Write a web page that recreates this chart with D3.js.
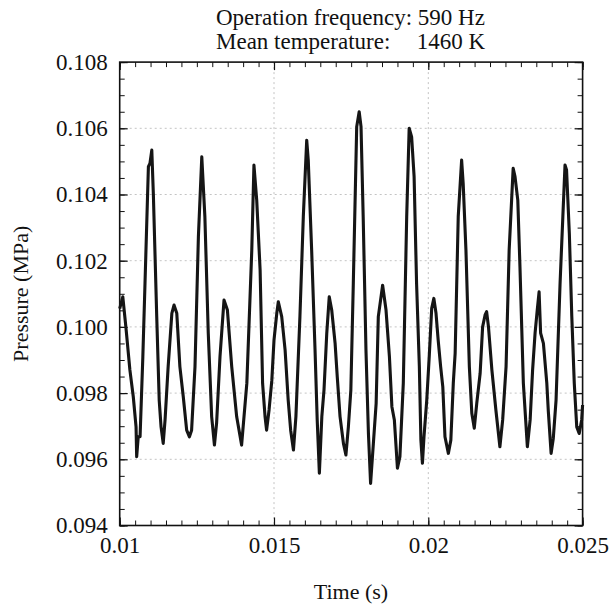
<!DOCTYPE html>
<html lang="en">
<head>
  <meta charset="utf-8" />
  <style>
    body { margin: 0; background: #fff; }
    text { font-family: "Liberation Serif", "Times New Roman", serif; fill: #111; }
  </style>
</head>
<body>
<script src="https://d3js.org/d3.v7.min.js"></script>
<script>
// pressure trace
var timeS = [
  0.01000,0.01010,0.01020,0.01033,0.01044,0.01053,0.01055,0.01060,0.01066,0.01075,
  0.01082,0.01093,0.01098,0.01104,0.01109,0.01120,0.01128,0.01134,0.01141,0.01147,
  0.01157,0.01169,0.01176,0.01185,0.01195,0.01206,0.01217,0.01226,0.01233,0.01244,
  0.01255,0.01266,0.01276,0.01287,0.01298,0.01307,0.01314,0.01325,0.01338,0.01349,
  0.01363,0.01379,0.01395,0.01412,0.01428,0.01435,0.01444,0.01455,0.01463,0.01471,
  0.01476,0.01484,0.01493,0.01500,0.01509,0.01514,0.01525,0.01536,0.01546,0.01554,
  0.01563,0.01571,0.01584,0.01595,0.01606,0.01611,0.01622,0.01633,0.01640,0.01647,
  0.01655,0.01662,0.01671,0.01679,0.01687,0.01698,0.01705,0.01714,0.01725,0.01733,
  0.01741,0.01749,0.01757,0.01768,0.01776,0.01782,0.01789,0.01798,0.01806,0.01813,
  0.01822,0.01831,0.01838,0.01852,0.01863,0.01874,0.01882,0.01890,0.01900,0.01908,
  0.01919,0.01930,0.01938,0.01946,0.01954,0.01962,0.01971,0.01976,0.01981,0.01986,
  0.01995,0.02003,0.02011,0.02018,0.02025,0.02032,0.02040,0.02047,0.02054,0.02065,
  0.02073,0.02081,0.02087,0.02097,0.02108,0.02113,0.02122,0.02133,0.02141,0.02149,
  0.02157,0.02168,0.02176,0.02184,0.02189,0.02195,0.02206,0.02219,0.02232,0.02241,
  0.02252,0.02262,0.02275,0.02281,0.02290,0.02297,0.02308,0.02321,0.02330,0.02338,
  0.02346,0.02353,0.02359,0.02364,0.02373,0.02384,0.02389,0.02398,0.02405,0.02414,
  0.02427,0.02436,0.02443,0.02448,0.02457,0.02465,0.02473,0.02481,0.02489,0.02497,
  0.02500
];

var pressureMPa = [
  0.10055,0.10091,0.10000,0.09870,0.09789,0.09698,0.09608,0.09668,0.09668,0.09910,
  0.10132,0.10484,0.10494,0.10534,0.10403,0.10031,0.09779,0.09698,0.09648,0.09719,
  0.09880,0.10041,0.10066,0.10041,0.09880,0.09789,0.09688,0.09668,0.09688,0.09880,
  0.10272,0.10514,0.10333,0.09981,0.09729,0.09643,0.09709,0.09910,0.10081,0.10051,
  0.09880,0.09729,0.09643,0.09830,0.10232,0.10489,0.10383,0.10172,0.09830,0.09729,
  0.09688,0.09749,0.09839,0.09960,0.10041,0.10076,0.10031,0.09930,0.09779,0.09688,
  0.09628,0.09729,0.10031,0.10333,0.10564,0.10504,0.10232,0.09930,0.09719,0.09558,
  0.09729,0.09809,0.09981,0.10091,0.10051,0.09950,0.09849,0.09729,0.09648,0.09613,
  0.09698,0.09809,0.10132,0.10605,0.10650,0.10605,0.10333,0.09930,0.09678,0.09527,
  0.09648,0.09769,0.10031,0.10126,0.10051,0.09910,0.09759,0.09719,0.09573,0.09608,
  0.09830,0.10333,0.10600,0.10574,0.10454,0.10132,0.09880,0.09658,0.09588,0.09668,
  0.09779,0.09910,0.10056,0.10086,0.10041,0.09960,0.09880,0.09819,0.09668,0.09618,
  0.09658,0.09830,0.09920,0.10333,0.10504,0.10434,0.10232,0.09880,0.09739,0.09694,
  0.09769,0.09860,0.10000,0.10036,0.10046,0.10000,0.09870,0.09749,0.09638,0.09719,
  0.09880,0.10232,0.10479,0.10454,0.10383,0.10182,0.09830,0.09638,0.09719,0.09870,
  0.09981,0.10051,0.10106,0.09981,0.09950,0.09830,0.09744,0.09618,0.09663,0.09779,
  0.10132,0.10333,0.10489,0.10474,0.10283,0.10031,0.09830,0.09698,0.09678,0.09719,
  0.09764
];

var xTicks = [0.01, 0.015, 0.02, 0.025];
var xTickLabels = ["0.01", "0.015", "0.02", "0.025"];
var yTicks = [0.094, 0.096, 0.098, 0.100, 0.102, 0.104, 0.106, 0.108];
var yTickLabels = ["0.094", "0.096", "0.098", "0.100", "0.102", "0.104", "0.106", "0.108"];
var xMinorTicks = d3.range(31).map(function(i){ return 0.01 + i * 0.0005; });
var yMinorTicks = d3.range(29).map(function(i){ return 0.094 + i * 0.0005; });

var titleLines = ["Operation frequency: 590 Hz", "Mean temperature:", "1460 K"];

var pL = 119.7, pR = 582.6, pT = 62.1, pB = 525.5;

var svg = d3.select("body").append("svg")
  .attr("width", 613)
  .attr("height", 605);

var x = d3.scaleLinear().domain([0.01, 0.025]).range([pL, pR]);
var y = d3.scaleLinear().domain([0.094, 0.108]).range([pB, pT]);

// dotted grid
svg.append("g").selectAll("line")
  .data(xTicks.slice(1, -1))
  .enter().append("line")
    .attr("x1", function(d){ return x(d); })
    .attr("x2", function(d){ return x(d); })
    .attr("y1", pT).attr("y2", pB)
    .attr("stroke", "#c4c4c4")
    .attr("stroke-dasharray", "2,3");

svg.append("g").selectAll("line")
  .data(yTicks.slice(1, -1))
  .enter().append("line")
    .attr("x1", pL).attr("x2", pR)
    .attr("y1", function(d){ return y(d); })
    .attr("y2", function(d){ return y(d); })
    .attr("stroke", "#c4c4c4")
    .attr("stroke-dasharray", "2,3");

// minor ticks on all four sides
function minor(axis, vals, tx, ty) {
  var g = svg.append("g")
    .attr("transform", "translate(" + tx + "," + ty + ")")
    .call(axis.tickValues(vals).tickSize(-5).tickFormat(""));
  g.select(".domain").remove();
  g.selectAll("line").attr("stroke", "#111").attr("stroke-width", 1);
}
minor(d3.axisBottom(x), xMinorTicks, 0, pB);
minor(d3.axisTop(x), xMinorTicks, 0, pT);
minor(d3.axisLeft(y), yMinorTicks, pL, 0);
minor(d3.axisRight(y), yMinorTicks, pR, 0);

// major ticks + labels
var xAxis = svg.append("g")
  .attr("transform", "translate(0," + pB + ")")
  .call(d3.axisBottom(x).tickValues(xTicks).tickSize(-8).tickPadding(11)
    .tickFormat(function(d, i){ return xTickLabels[i]; }));

var yAxis = svg.append("g")
  .attr("transform", "translate(" + pL + ",0)")
  .call(d3.axisLeft(y).tickValues(yTicks).tickSize(-8).tickPadding(12)
    .tickFormat(function(d, i){ return yTickLabels[i]; }));

var xTop = svg.append("g")
  .attr("transform", "translate(0," + pT + ")")
  .call(d3.axisTop(x).tickValues(xTicks).tickSize(-8).tickFormat(""));
var yRight = svg.append("g")
  .attr("transform", "translate(" + pR + ",0)")
  .call(d3.axisRight(y).tickValues(yTicks).tickSize(-8).tickFormat(""));

[xAxis, yAxis, xTop, yRight].forEach(function(g){
  g.select(".domain").remove();
  g.selectAll("line").attr("stroke", "#111").attr("stroke-width", 1.2);
  g.selectAll("text")
    .style("font-family", '"Liberation Serif", "Times New Roman", serif')
    .style("font-size", "23px")
    .attr("fill", "#111");
});

// frame
svg.append("rect")
  .attr("x", pL).attr("y", pT)
  .attr("width", pR - pL).attr("height", pB - pT)
  .attr("fill", "none")
  .attr("stroke", "#111")
  .attr("stroke-width", 1.6);

// the trace
var line = d3.line()
  .x(function(d, i){ return x(timeS[i]); })
  .y(function(d){ return y(d); });

svg.append("path")
  .datum(pressureMPa)
  .attr("d", line)
  .attr("fill", "none")
  .attr("stroke", "#151515")
  .attr("stroke-width", 3.1)
  .attr("stroke-linejoin", "round");

// titles
svg.append("text")
  .attr("x", 216).attr("y", 25)
  .style("font-size", "23px")
  .text(titleLines[0]);
svg.append("text")
  .attr("x", 216).attr("y", 49)
  .style("font-size", "23px")
  .text(titleLines[1]);
svg.append("text")
  .attr("x", 485).attr("y", 49)
  .attr("text-anchor", "end")
  .style("font-size", "23px")
  .text(titleLines[2]);

svg.append("text")
  .attr("x", 351).attr("y", 599)
  .attr("text-anchor", "middle")
  .style("font-size", "22px")
  .text("Time (s)");

svg.append("text")
  .attr("transform", "translate(28," + ((pT + pB) / 2) + ") rotate(-90)")
  .attr("text-anchor", "middle")
  .style("font-size", "22px")
  .text("Pressure (MPa)");
</script>
</body>
</html>
